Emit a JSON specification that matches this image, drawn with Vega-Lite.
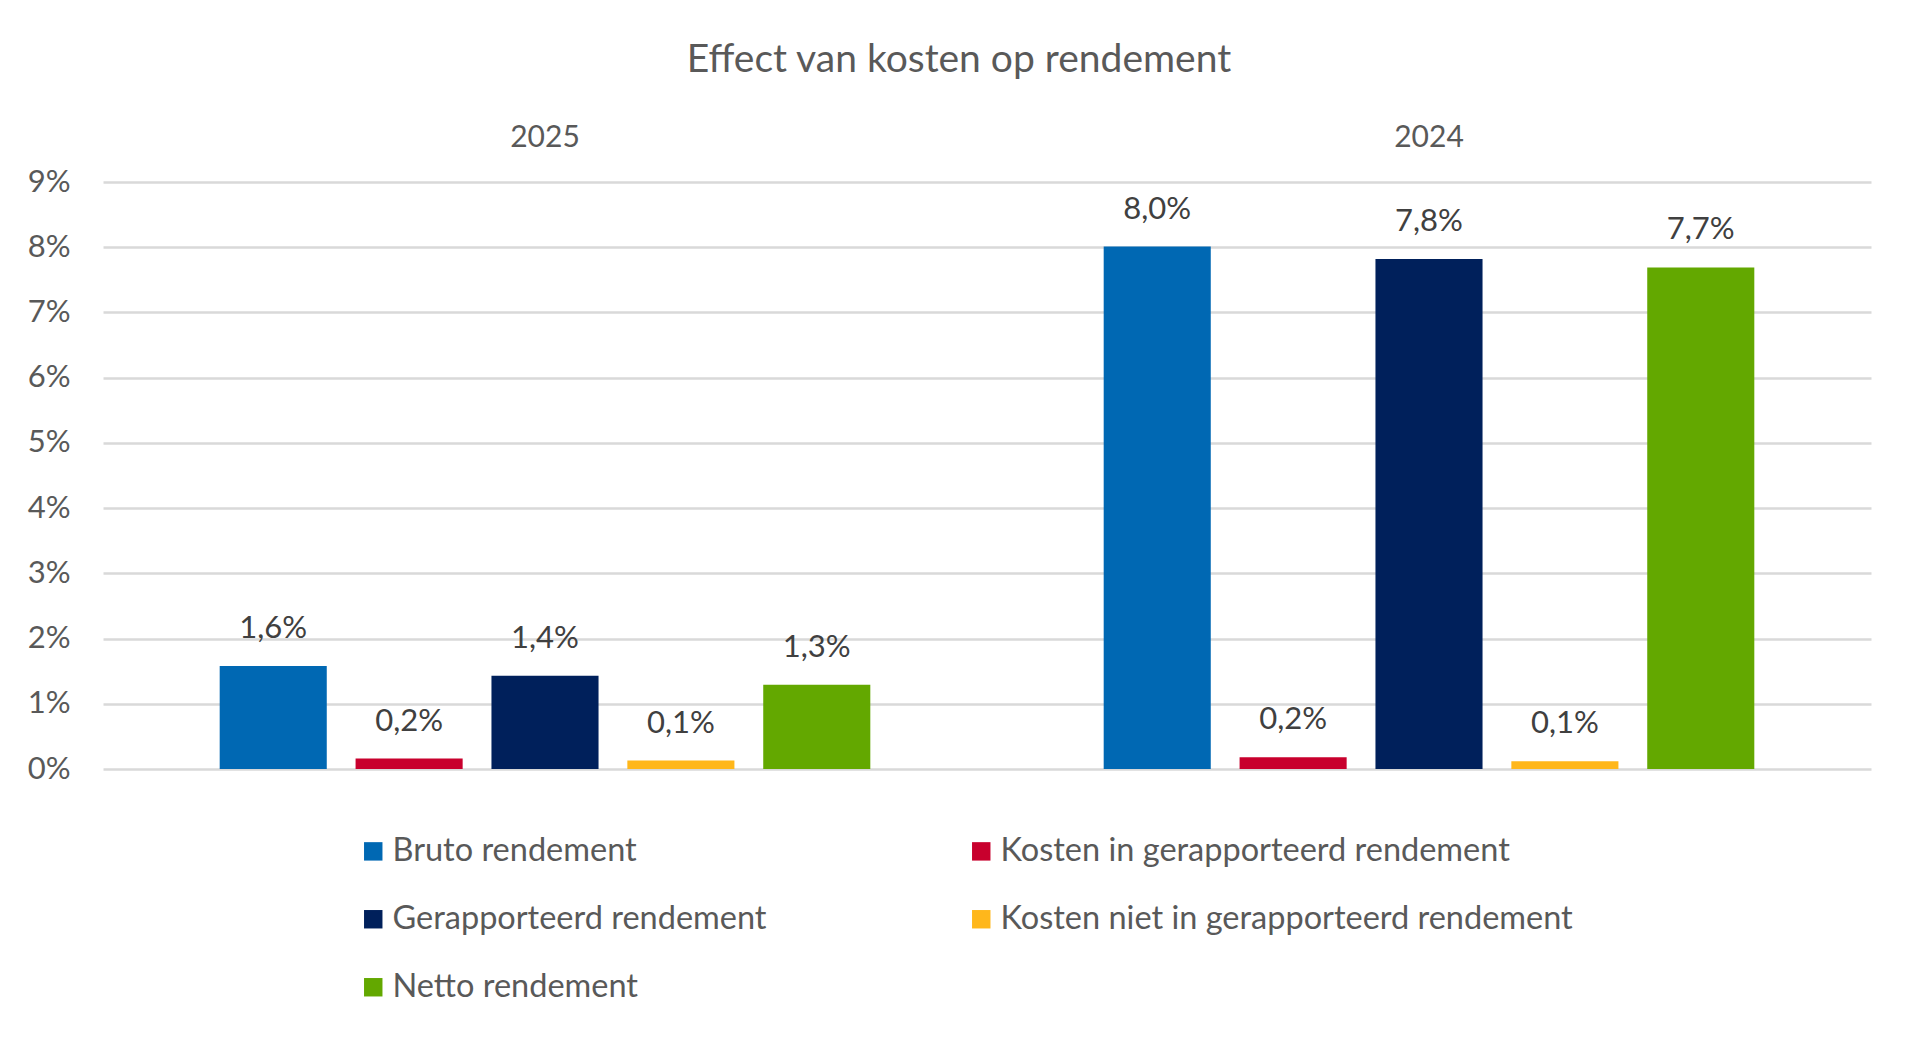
{
  "$schema": "https://vega.github.io/schema/vega-lite/v6.json",
  "autosize": "none",
  "width": 1768,
  "height": 587,
  "padding": {"left": 103, "top": 182, "right": 49, "bottom": 270},
  "background": "white",
  "title": {
    "text": "Effect van kosten op rendement",
    "anchor": "middle",
    "dx": -28,
    "offset": 42,
    "fontSize": 39,
    "fontWeight": "normal",
    "font": "Lato",
    "color": "#595959"
  },
  "data": {
    "values": [
      {"jaar": "2025", "reeks": "Bruto rendement", "waarde": 0.0158},
      {"jaar": "2025", "reeks": "Kosten in gerapporteerd rendement", "waarde": 0.0016},
      {"jaar": "2025", "reeks": "Gerapporteerd rendement", "waarde": 0.0143},
      {"jaar": "2025", "reeks": "Kosten niet in gerapporteerd rendement", "waarde": 0.0013},
      {"jaar": "2025", "reeks": "Netto rendement", "waarde": 0.0129},
      {"jaar": "2024", "reeks": "Bruto rendement", "waarde": 0.0801},
      {"jaar": "2024", "reeks": "Kosten in gerapporteerd rendement", "waarde": 0.0018},
      {"jaar": "2024", "reeks": "Gerapporteerd rendement", "waarde": 0.0782},
      {"jaar": "2024", "reeks": "Kosten niet in gerapporteerd rendement", "waarde": 0.0012},
      {"jaar": "2024", "reeks": "Netto rendement", "waarde": 0.0769}
    ]
  },
  "encoding": {
    "x": {
      "field": "jaar",
      "type": "nominal",
      "sort": ["2025", "2024"],
      "scale": {"paddingInner": 0.264, "paddingOuter": 0.132},
      "axis": {
        "orient": "top",
        "title": null,
        "domain": false,
        "ticks": false,
        "tickSize": 0,
        "labelAngle": 0,
        "labelFontSize": 30,
        "labelFont": "Lato",
        "labelColor": "#595959",
        "labelBaseline": "alphabetic",
        "labelPadding": 36
      }
    },
    "xOffset": {
      "field": "reeks",
      "type": "nominal",
      "sort": ["Bruto rendement", "Kosten in gerapporteerd rendement", "Gerapporteerd rendement", "Kosten niet in gerapporteerd rendement", "Netto rendement"],
      "scale": {"paddingInner": 0.212, "paddingOuter": 0}
    },
    "y": {
      "field": "waarde",
      "type": "quantitative",
      "scale": {"domain": [0, 0.09], "nice": false},
      "axis": {
        "title": null,
        "values": [0, 0.01, 0.02, 0.03, 0.04, 0.05, 0.06, 0.07, 0.08, 0.09],
        "format": ".0%",
        "domain": false,
        "ticks": false,
        "tickSize": 0,
        "grid": true,
        "gridColor": "#d9d9d9",
        "gridWidth": 2.5,
        "labelFontSize": 31,
        "labelFont": "Lato",
        "labelColor": "#595959",
        "labelPadding": 33
      }
    }
  },
  "layer": [
    {
      "mark": {"type": "bar"},
      "encoding": {
        "color": {
          "field": "reeks",
          "type": "nominal",
          "sort": ["Bruto rendement", "Kosten in gerapporteerd rendement", "Gerapporteerd rendement", "Kosten niet in gerapporteerd rendement", "Netto rendement"],
          "scale": {
            "domain": ["Bruto rendement", "Kosten in gerapporteerd rendement", "Gerapporteerd rendement", "Kosten niet in gerapporteerd rendement", "Netto rendement"],
            "range": ["#0068b3", "#c8002d", "#00205b", "#ffb71b", "#63a800"]
          },
          "legend": {
            "title": null,
            "orient": "none",
            "legendX": 254,
            "legendY": 653,
            "columns": 2,
            "direction": "horizontal",
            "columnPadding": 198,
            "rowPadding": 35,
            "padding": 0,
            "symbolType": "square",
            "symbolSize": 340,
            "symbolStrokeWidth": 0,
            "labelFontSize": 32.5,
            "labelFont": "Lato",
            "labelColor": "#595959",
            "labelOffset": 3,
            "labelLimit": 800
          }
        }
      }
    },
    {
      "mark": {"type": "text", "baseline": "alphabetic", "dy": -28, "fontSize": 31, "font": "Lato", "color": "#404040"},
      "encoding": {
        "text": {"field": "waarde", "type": "quantitative", "format": ".1%"}
      }
    }
  ],
  "config": {
    "view": {"stroke": null},
    "locale": {
      "number": {"decimal": ",", "thousands": ".", "grouping": [3], "currency": ["€", ""]}
    }
  }
}
